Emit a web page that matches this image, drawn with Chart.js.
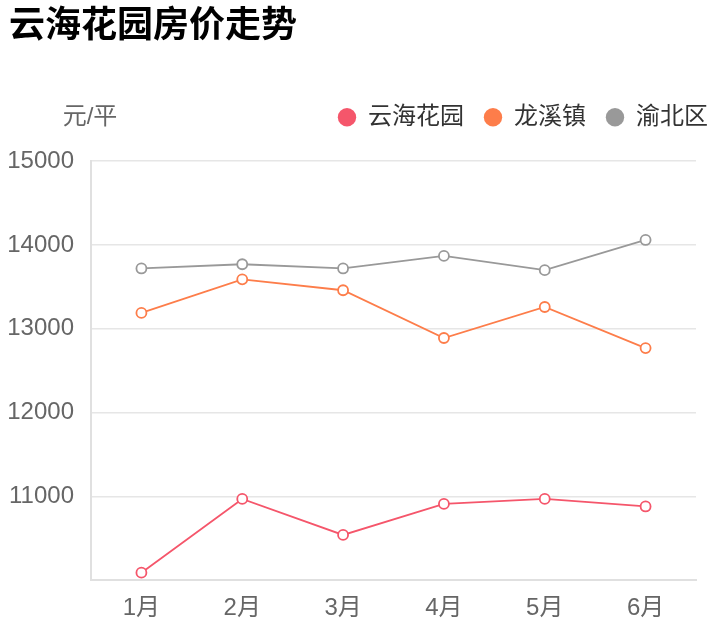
<!DOCTYPE html>
<html>
<head>
<meta charset="utf-8">
<script src="https://cdn.jsdelivr.net/npm/chart.js@4"></script>
<style>
  html, body { margin: 0; padding: 0; background: #fff; }
  #box { width: 718px; height: 640px; position: relative; }
</style>
</head>
<body>
<div id="box"><canvas id="chart"></canvas></div>
<script>
// 数据
const months = ["1月", "2月", "3月", "4月", "5月", "6月"];
const yunhai = [10090, 10970, 10540, 10910, 10970, 10880];
const longxi = [13190, 13590, 13460, 12890, 13260, 12770];
const yubei = [13720, 13770, 13720, 13870, 13700, 14060];
const seriesNames = ["云海花园", "龙溪镇", "渝北区"];
const seriesColors = ["#f5566b", "#fd7d4a", "#999999"];

const FONT = "'Liberation Sans', 'Noto Sans CJK SC', sans-serif";

function makeSet(i, values) {
  return {
    label: seriesNames[i],
    data: values,
    borderColor: seriesColors[i],
    backgroundColor: seriesColors[i],
    pointBackgroundColor: "#fff",
    pointBorderColor: seriesColors[i],
    pointRadius: 5,
    pointBorderWidth: 1.8,
    borderWidth: 1.8,
    tension: 0,
  };
}

// 图例下方留白, 靠右
const legendSpace = {
  id: "legendSpace",
  beforeInit(chart) {
    const fit = chart.legend.fit;
    chart.legend.fit = function () {
      fit.bind(chart.legend)();
      this.height += 22;
    };
  },
  beforeDraw(chart) {
    if (!chart.legend._shifted) {
      chart.legend.right += 20;
      chart.legend._shifted = true;
    }
  },
};

// 单位 元/平
const unitLabel = {
  id: "unitLabel",
  afterDraw(chart) {
    const ctx = chart.ctx;
    const area = chart.chartArea;
    ctx.save();
    ctx.font = "24px " + FONT;
    ctx.fillStyle = "#666";
    ctx.textAlign = "center";
    ctx.textBaseline = "middle";
    ctx.fillText("元/平", area.left - 1, area.top - 44);
    ctx.restore();
  },
};

new Chart(document.getElementById("chart"), {
  type: "line",
  data: {
    labels: months,
    datasets: [makeSet(0, yunhai), makeSet(1, longxi), makeSet(2, yubei)],
  },
  plugins: [legendSpace, unitLabel],
  options: {
    responsive: true,
    maintainAspectRatio: false,
    animation: false,
    layout: { padding: { left: 9, right: 10, top: 0, bottom: 3 } },
    plugins: {
      title: {
        display: true,
        text: "云海花园房价走势",
        align: "start",
        color: "#000",
        font: { size: 36, weight: "bold", family: FONT },
        padding: { top: 5, bottom: 37 },
      },
      legend: {
        position: "top",
        align: "end",
        labels: {
          usePointStyle: true,
          pointStyle: "circle",
          boxWidth: 18,
          boxHeight: 13,
          padding: 20,
          color: "#333",
          font: { size: 24, family: FONT },
          generateLabels(chart) {
            const items = Chart.defaults.plugins.legend.labels.generateLabels(chart);
            items.forEach((it) => {
              it.fillStyle = seriesColors[it.datasetIndex];
              it.strokeStyle = seriesColors[it.datasetIndex];
              it.lineWidth = 0;
            });
            return items;
          },
        },
      },
      tooltip: { enabled: true },
    },
    scales: {
      x: {
        offset: true,
        grid: { display: false, drawTicks: false },
        border: { display: true, color: "#e0e0e0", width: 2 },
        ticks: { color: "#666", font: { size: 24, family: FONT }, padding: 14 },
      },
      y: {
        min: 10000,
        max: 15000,
        grid: { color: "#e6e6e6", lineWidth: 1.5, drawTicks: false },
        border: { display: true, color: "#e0e0e0", width: 2 },
        ticks: {
          stepSize: 1000,
          color: "#666",
          font: { size: 24, family: FONT },
          padding: 17,
          callback: (v) => (v === 10000 ? "" : v),
        },
        afterFit(scale) { scale.width = 82; },
      },
      y2: {
        position: "right",
        display: true,
        grid: { display: false, drawTicks: false },
        border: { display: false },
        ticks: { display: false },
        afterFit(scale) { scale.width = 12; },
      },
    },
  },
});
</script>
</body>
</html>
